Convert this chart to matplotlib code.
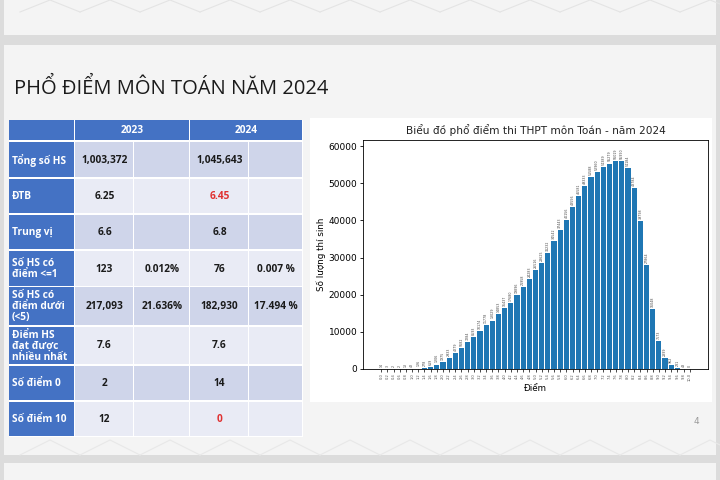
import matplotlib.pyplot as plt
import numpy as np
from matplotlib.patches import Rectangle

# phổ điểm Toán 2024, bước 0.2
diem = [round(i * 0.2, 1) for i in range(51)]
so_ts = [14, 3, 2, 2, 13, 42, 126, 278, 619, 1206,
         1975, 2933, 4279, 5682, 7284, 8593, 10174, 11778, 13029, 14853,
         16437, 17680, 19896, 21958, 24283, 26516, 28625, 31232, 34542, 37443,
         40156, 43556, 46581, 49333, 51588, 52960, 54389, 55279, 56019, 55990,
         54184, 48784, 39798, 27864, 16048, 7573, 2899, 962, 231, 43, 0]

# bảng so sánh
row_labels = ["Tổng số HS", "ĐTB", "Trung vị", "Số HS có\nđiểm <=1",
              "Số HS có\nđiểm dưới\n(<5)", "Điểm HS\nđạt được\nnhiều nhất",
              "Số điểm 0", "Số điểm 10"]
years = ["2023", "2024"]
val_2023 = ["1,003,372", "6.25", "6.6", "123", "217,093", "7.6", "2", "12"]
pct_2023 = ["", "", "", "0.012%", "21.636%", "", "", ""]
val_2024 = ["1,045,643", "6.45", "6.8", "76", "182,930", "7.6", "14", "0"]
pct_2024 = ["", "", "", "0.007 %", "17.494 %", "", "", ""]
red_2024 = [False, True, False, False, False, False, False, True]

fig = plt.figure(figsize=(7.2, 4.8), dpi=100, facecolor='#f4f4f4')

# khung slide (toạ độ pixel)
bg = fig.add_axes([0, 0, 1, 1])
bg.set_xlim(0, 720)
bg.set_ylim(480, 0)
bg.axis('off')
bg.add_patch(Rectangle((0, 0), 720, 480, fc='#f4f4f4', lw=0, zorder=0))
bg.add_patch(Rectangle((0, 35), 720, 10, fc='#dcdcdc', lw=0, zorder=1))
bg.add_patch(Rectangle((0, 455), 720, 8, fc='#dcdcdc', lw=0, zorder=1))
bg.add_patch(Rectangle((0, 0), 4, 480, fc='#dcdcdc', lw=0, zorder=1))
bg.add_patch(Rectangle((716, 0), 4, 480, fc='#dcdcdc', lw=0, zorder=1))
for x0 in range(20, 700, 60):
    bg.plot([x0, x0 + 30, x0 + 60], [12, 0, 12], color='#e4e4e4', lw=0.8, zorder=1)
    bg.plot([x0, x0 + 30, x0 + 60], [455, 440, 455], color='#e8e8e8', lw=0.8, zorder=1)

bg.text(14, 88, "PHỔ ĐIỂM MÔN TOÁN NĂM 2024", fontsize=14.5, family='Open Sans',
        color='#1a1a1a', va='center', ha='left', zorder=4)
bg.text(696, 421, "4", fontsize=6.5, color='#999999', ha='center', va='center')

# bảng
col_x = [9, 75, 134, 190, 249, 303]
header = (120, 141)
row_y = [(142, 178), (179, 214), (215, 250), (251, 287),
         (287, 326), (327, 365), (366, 401), (402, 437)]
blue = '#4472c4'
band_dark = '#cfd5ea'
band_light = '#e9ebf5'
g = 1.5
tf = 'Open Sans'
fs = 7.3

bg.add_patch(Rectangle((col_x[0], header[0]), col_x[-1] - col_x[0],
                       row_y[-1][1] - header[0], fc='white', lw=0, zorder=1.5))
bg.add_patch(Rectangle((col_x[0], header[0]), col_x[1] - col_x[0] - g,
                       header[1] - header[0] - g, fc=blue, lw=0, zorder=2))
for k, yr in enumerate(years):
    xa, xb = col_x[1 + 2 * k], col_x[3 + 2 * k]
    bg.add_patch(Rectangle((xa, header[0]), xb - xa - g, header[1] - header[0] - g,
                           fc=blue, lw=0, zorder=2))
    bg.text((xa + xb) / 2, (header[0] + header[1]) / 2, yr, color='white',
            fontsize=fs, fontweight='bold', family=tf, ha='center', va='center', zorder=3)

for i, (y0, y1) in enumerate(row_y):
    fill = band_dark if i % 2 == 0 else band_light
    bg.add_patch(Rectangle((col_x[0], y0), col_x[1] - col_x[0] - g, y1 - y0 - g,
                           fc=blue, lw=0, zorder=2))
    bg.text(col_x[0] + 3, (y0 + y1) / 2, row_labels[i], color='white', fontsize=fs,
            fontweight='bold', family=tf, ha='left', va='center', linespacing=1.0, zorder=3)
    cells = [val_2023[i], pct_2023[i], val_2024[i], pct_2024[i]]
    for j, txt in enumerate(cells):
        xa, xb = col_x[1 + j], col_x[2 + j]
        bg.add_patch(Rectangle((xa, y0), xb - xa - g, y1 - y0 - g, fc=fill, lw=0, zorder=2))
        c = '#e03030' if (j == 2 and red_2024[i]) else '#1a1a1a'
        bg.text((xa + xb) / 2, (y0 + y1) / 2, txt, color=c, fontsize=fs,
                fontweight='bold', family=tf, ha='center', va='center', zorder=3)

# vùng ảnh biểu đồ
bg.add_patch(Rectangle((310, 118), 402, 284, fc='white', lw=0, zorder=2))

ax = fig.add_axes([363 / 720, 1 - 369 / 480, 345 / 720, 229 / 480])
ax.set_zorder(5)
bars = ax.bar(diem, so_ts, width=0.17, color='#1f77b4')
ax.bar_label(bars, rotation=90, fontsize=2.3, padding=1.5, color='#444444')
ax.set_ylim(0, max(so_ts) * 1.1)
ax.set_xticks(diem)
ax.set_xticklabels([f"{d:.1f}" for d in diem], rotation=90, fontsize=2.6, color='#555555')
ax.tick_params(axis='x', length=2, width=0.5, pad=1)
ax.tick_params(axis='y', labelsize=6.5, length=2.5, width=0.6, pad=1.5)
ax.set_title("Biểu đồ phổ điểm thi THPT môn Toán - năm 2024", fontsize=7.6, pad=4, color='#222222')
ax.set_xlabel("Điểm", fontsize=6.3, labelpad=2)
ax.set_ylabel("Số lượng thí sinh", fontsize=6.3, labelpad=2)
for s in ax.spines.values():
    s.set_linewidth(0.6)

fig.savefig("out.png", dpi=100, facecolor=fig.get_facecolor())
